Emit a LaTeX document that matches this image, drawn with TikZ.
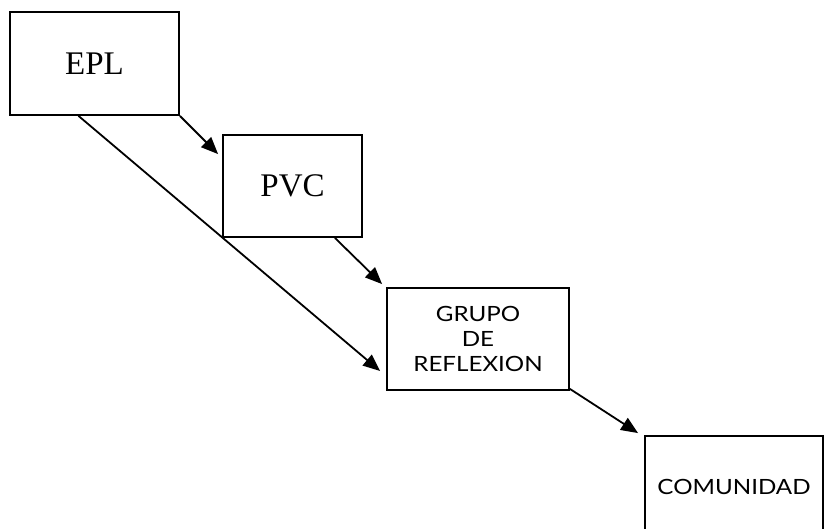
\documentclass[tikz,border=0pt]{standalone}
\usepackage{fontspec}
\newfontfamily\grpfont[FakeStretch=1.15]{Lato}
\newfontfamily\bigfont{Liberation Serif}
\usetikzlibrary{arrows.meta,calc}
\begin{document}
\begin{tikzpicture}[x=1pt,y=-1pt,
  box/.style={draw,line width=1.8pt,rectangle,inner sep=0pt},
  bigtxt/.style={font=\bigfont\fontsize{33}{38}\selectfont},
  smalltxt/.style={font=\grpfont\fontsize{21}{25}\selectfont,align=center},
  arr/.style={line width=1.8pt,-{Triangle[length=17pt,width=14pt]}}]
\useasboundingbox (0,0) rectangle (825,529);
\clip (0,0) rectangle (825,529);
\fill[white] (0,0) rectangle (825,529);
\node[box,bigtxt,minimum width=169pt,minimum height=103pt] (epl) at (94.5,63.5) {EPL};
\node[box,bigtxt,minimum width=139pt,minimum height=102pt] (pvc) at (292.5,186) {PVC};
\node[box,smalltxt,minimum width=182pt,minimum height=102pt] (grp) at (478,339) {GRUPO\\DE\\REFLEXION};
\node[box,smalltxt,minimum width=178pt,minimum height=110pt] (com) at (734,491) {\raisebox{9pt}{COMUNIDAD}};
\draw[arr] (epl.south east) -- ($(pvc.north west)+(-4,20)$);
\draw[arr] ($(epl.south)+(-16,0)$) -- ($(grp.west)+(-6,32)$);
\draw[arr] ($(pvc.south east)+(-28,0)$) -- ($(grp.north west)+(-4,-3)$);
\draw[arr] ($(grp.south east)+(0,-2)$) -- ($(com.north west)+(-6,-2)$);
\end{tikzpicture}
\end{document}
